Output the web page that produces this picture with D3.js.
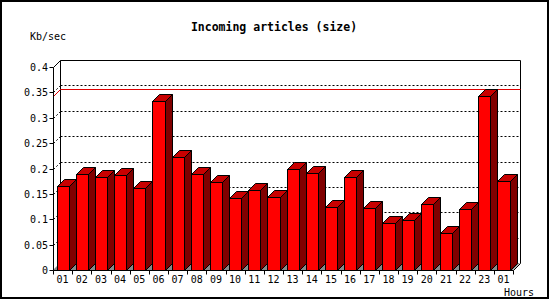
<!DOCTYPE html>
<html>
<head>
<meta charset="utf-8">
<script src="https://cdn.jsdelivr.net/npm/d3@7/dist/d3.min.js"></script>
<style>
  body { margin: 0; background: #fff; }
  text { font-family: "DejaVu Sans Mono", "Liberation Mono", monospace; }
</style>
</head>
<body>
<svg id="chart" width="550" height="300"></svg>
<script>
// hourly incoming size, Kb/sec
var hours = ["01","02","03","04","05","06","07","08","09","10","11","12",
             "13","14","15","16","17","18","19","20","21","22","23","01"];
var kbps = [0.165, 0.189, 0.183, 0.187, 0.161, 0.333, 0.222, 0.189, 0.173, 0.141, 0.157, 0.143,
            0.200, 0.191, 0.124, 0.183, 0.122, 0.092, 0.098, 0.131, 0.072, 0.120, 0.342, 0.175];
var yTicks = [0, 0.05, 0.1, 0.15, 0.2, 0.25, 0.3, 0.35, 0.4];

function draw() {
    var svg = d3.select("#chart"),
        left = 53, right = 513, yTop = 67, yBot = 270,
        dx = 7, dy = -7;

    var x = d3.scaleBand()
        .domain(d3.range(hours.length))
        .range([left, right]);

    var y = d3.scaleLinear()
        .domain([0, 0.4])
        .range([yBot, yTop]);

    // frame
    svg.append("rect")
        .attr("x", 1).attr("y", 1)
        .attr("width", 547).attr("height", 297)
        .attr("fill", "#fff")
        .attr("stroke", "#000")
        .attr("stroke-width", 2);

    function line(x1, y1, x2, y2, color, dash) {
        var l = svg.append("line")
            .attr("x1", x1 + 0.5).attr("y1", y1 + 0.5)
            .attr("x2", x2 + 0.5).attr("y2", y2 + 0.5)
            .attr("stroke", color || "#000")
            .attr("stroke-width", 1);
        if (dash) l.attr("stroke-dasharray", dash);
        return l;
    }

    // floor
    svg.append("polygon")
        .attr("points", [[left, yBot], [left + dx, yBot + dy], [right + dx, yBot + dy], [right, yBot]].join(" "))
        .attr("fill", "#888");

    // grid on back wall
    yTicks.forEach(function(t) {
        if (t === 0 || t === 0.4) return;
        var yy = Math.round(y(t));
        line(left, yy, left + dx, yy + dy, "#000", "2,2");
        line(left + dx, yy + dy, right + dx, yy + dy, "#000", "2,2");
    });

    // back wall outline
    line(left + dx, yTop + dy, right + dx, yTop + dy);
    line(left + dx, yTop + dy, left + dx, yBot + dy);
    line(right + dx, yTop + dy, right + dx, yBot + dy);
    line(left, yTop, left + dx, yTop + dy);

    // max line
    var ym = Math.round(y(d3.max(kbps)));
    line(left, ym, left + dx, ym + dy, "#e00000");
    line(left + dx, ym + dy, right + dx, ym + dy, "#e00000");

    // bars
    var bw = x.bandwidth() - dx, off = 3.5;
    var g = svg.append("g").attr("stroke", "#000").attr("stroke-width", 1);
    kbps.forEach(function(v, i) {
        var x0 = Math.round(x(i) + off) + 0.5,
            x1 = Math.round(x(i) + off + bw) + 0.5,
            yt = Math.round(y(v)) + 0.5,
            yb = yBot + 0.5;
        g.append("polygon")
            .attr("points", [[x1, yt], [x1 + dx, yt + dy], [x1 + dx, yb + dy], [x1, yb]].join(" "))
            .attr("fill", "#800000");
        g.append("polygon")
            .attr("points", [[x0, yt], [x0 + dx, yt + dy], [x1 + dx, yt + dy], [x1, yt]].join(" "))
            .attr("fill", "#c80000");
        g.append("rect")
            .attr("x", x0).attr("y", yt)
            .attr("width", x1 - x0).attr("height", yb - yt)
            .attr("fill", "#ff0000");
    });

    // front axes
    line(left, yTop, left, yBot);
    line(left, yBot, right, yBot);
    line(right, yBot, right + dx, yBot + dy);

    yTicks.forEach(function(t) {
        var yy = Math.round(y(t));
        line(left - 4, yy, left, yy);
        svg.append("text")
            .attr("x", left - 5).attr("y", yy + 4)
            .attr("text-anchor", "end")
            .attr("font-size", 10)
            .text(t);
    });

    d3.range(hours.length + 1).forEach(function(i) {
        var xx = Math.round(left + i * x.step());
        line(xx, yBot, xx, yBot + 4);
    });

    hours.forEach(function(h, i) {
        svg.append("text")
            .attr("x", x(i) + x.bandwidth() / 2)
            .attr("y", 283)
            .attr("text-anchor", "middle")
            .attr("font-size", 10)
            .text(h);
    });

    svg.append("text")
        .attr("x", 274).attr("y", 31)
        .attr("text-anchor", "middle")
        .attr("font-size", 11.5)
        .attr("font-weight", "bold")
        .text("Incoming articles (size)");

    svg.append("text")
        .attr("x", 30).attr("y", 40)
        .attr("font-size", 10)
        .text("Kb/sec");

    svg.append("text")
        .attr("x", 504).attr("y", 296)
        .attr("font-size", 10)
        .text("Hours");
}

draw();
</script>
</body>
</html>
